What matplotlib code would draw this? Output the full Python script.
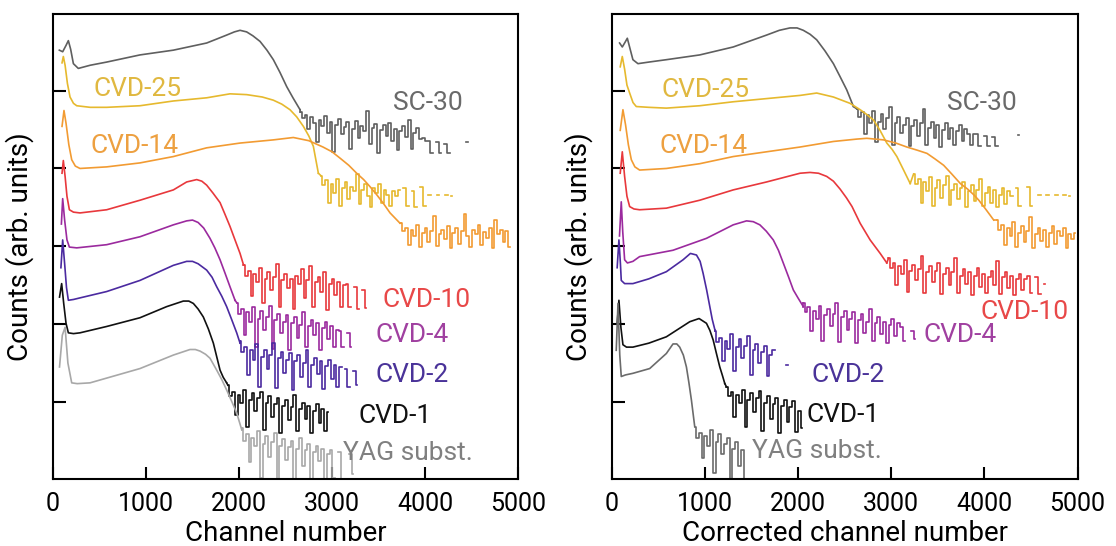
import numpy as np
import matplotlib
matplotlib.use("Agg")
import matplotlib.pyplot as plt

nan = np.nan
BIN = 30  # channel width of one bin in the noisy tails

# ---------------- left panel: channel number ----------------
# smooth part as (channel, offset counts) points, then the noisy tail bins
L_sc30_ch = [68, 104, 140, 165, 190, 219, 272, 400, 577, 935, 1294, 1652, 1760, 1867, 1950, 2011,
             2082, 2150, 2226, 2300, 2369, 2440, 2513, 2580, 2656]
L_sc30_y = [5.54, 5.52, 5.60, 5.66, 5.55, 5.37, 5.31, 5.35, 5.39, 5.48, 5.54, 5.63, 5.68, 5.73, 5.77, 5.79,
            5.77, 5.72, 5.65, 5.54, 5.42, 5.26, 5.08, 4.94, 4.79]
L_sc30_t0 = 2660
L_sc30_tail = [4.76, 4.68, 4.72, 4.55, 4.70, 4.62, 4.38, 4.66, 4.58, 4.71,
               4.50, 4.64, 4.26, 4.60, 4.67, 4.48, 4.57, 4.63, 4.30, 4.55,
               4.65, 4.44, 4.58, 4.52, 4.78, 4.36, 4.56, 4.61, 4.25, 4.54,
               4.60, 4.46, 4.62, 4.40, 4.55, 4.28, 4.52, 4.58, 4.45, 4.66,
               4.30, 4.50, 4.56, 4.42,
               4.44, 4.40, 4.40, 4.24, nan, 4.38, 4.24, nan, 4.36, 4.24, nan,
               nan, nan, nan, nan, nan, 4.38]

L_cvd25_ch = [97, 111, 130, 155, 183, 220, 255, 400, 577, 935, 1294, 1652, 1903, 2082, 2250, 2369,
              2460, 2548, 2620, 2692, 2750, 2799, 2853]
L_cvd25_y = [5.38, 5.46, 5.35, 5.12, 4.95, 4.87, 4.84, 4.82, 4.82, 4.84, 4.90, 4.94, 4.99, 4.98, 4.95, 4.91,
             4.86, 4.79, 4.70, 4.58, 4.46, 4.33, 3.99]
L_cvd25_t0 = 2880
L_cvd25_tail = [3.96, 3.84, 3.90, 3.62, 3.86, 3.74, 3.92, 3.58, 3.80, 3.88,
                3.66, 3.82, 3.76, 3.98, 3.60, 3.78, 3.85, 3.70, 3.57, 3.80,
                3.74, 3.86, 3.62, 3.78, 3.72, 3.58, 3.76, 3.70,
                3.78, nan, 3.80, 3.58, nan, 3.76, 3.57, nan, 3.82, 3.58,
                nan, 3.72, nan, nan, 3.71, nan, nan, 3.71, nan, 3.70]

L_cvd14_ch = [97, 118, 140, 170, 201, 240, 290, 577, 935, 1294, 1652, 2011, 2369, 2584, 2750, 2903,
              3000, 3086, 3180, 3265, 3340, 3409, 3480, 3552, 3624, 3731]
L_cvd14_y = [4.58, 4.78, 4.62, 4.35, 4.16, 4.08, 4.05, 4.07, 4.12, 4.20, 4.31, 4.37, 4.41, 4.44, 4.40, 4.32,
             4.26, 4.18, 4.09, 3.99, 3.91, 3.82, 3.72, 3.61, 3.49, 3.36]
L_cvd14_t0 = 3740
L_cvd14_tail = [3.36, 3.26, 3.30, 3.08, 3.28, 3.20, 3.34, 3.06, 3.24, 3.30,
                3.12, 3.26, 3.45, 3.07, 3.22, 3.28, 3.16, 3.32, 3.05, 3.24,
                3.30, 3.10, 3.26, 3.48, 3.20, 3.06, 3.28, 3.22, 3.34, 3.08,
                3.25, 3.18, 3.30, 3.05, 3.40, 3.22, 3.28, 3.12, 3.26, 3.06]

L_cvd10_ch = [97, 111, 130, 150, 176, 220, 290, 577, 935, 1294, 1437, 1545, 1600, 1652, 1720, 1796,
              1850, 1903, 1960, 2011, 2047]
L_cvd10_y = [3.99, 4.15, 3.95, 3.70, 3.53, 3.50, 3.49, 3.53, 3.65, 3.78, 3.88, 3.91, 3.89, 3.84, 3.74, 3.62,
             3.47, 3.32, 3.14, 2.98, 2.84]
L_cvd10_t0 = 2050
L_cvd10_tail = [2.84, 2.70, 2.76, 2.45, 2.72, 2.62, 2.80, 2.35, 2.66, 2.74,
                2.52, 2.68, 2.85, 2.30, 2.64, 2.72, 2.55, 2.66, 2.28, 2.70,
                2.60, 2.78, 2.42, 2.64, 2.82, 2.30, 2.62, 2.68, 2.50, 2.74,
                2.27, 2.60, 2.66, 2.46, 2.62, 2.30, 2.58,
                2.60, 2.30, nan, 2.56, 2.28, nan, 2.52, 2.29]

L_cvd4_ch = [90, 104, 125, 150, 176, 255, 577, 935, 1294, 1437, 1500, 1560, 1620, 1688, 1740, 1796,
             1850, 1903, 1957]
L_cvd4_y = [3.35, 3.67, 3.40, 3.15, 3.06, 3.05, 3.09, 3.19, 3.34, 3.39, 3.40, 3.37, 3.30, 3.17, 3.05, 2.90,
            2.73, 2.56, 2.39]
L_cvd4_t0 = 1975
L_cvd4_tail = [2.36, 2.22, 2.28, 1.95, 2.24, 2.12, 2.30, 1.80, 2.16, 2.25,
               2.02, 2.18, 2.32, 1.78, 2.14, 2.22, 1.98, 2.12, 2.20, 1.76,
               2.10, 2.18, 1.92, 2.08, 2.24, 1.80, 2.06, 2.14, 1.95, 2.10,
               1.77, 2.04, 2.12, 1.90, 2.06, 1.80, 2.02,
               2.00, 1.80, nan, 1.98, 1.80]

L_cvd2_ch = [85, 104, 125, 145, 165, 220, 290, 577, 935, 1294, 1437, 1500, 1560, 1652, 1710, 1760,
             1815, 1867, 1920, 1975, 2011]
L_cvd2_y = [2.80, 3.15, 2.85, 2.55, 2.39, 2.40, 2.42, 2.50, 2.64, 2.83, 2.88, 2.88, 2.85, 2.77, 2.68, 2.56,
            2.44, 2.31, 2.15, 1.98, 1.85]
L_cvd2_t0 = 2011
L_cvd2_tail = [1.88, 1.74, 1.80, 1.45, 1.76, 1.64, 1.84, 1.30, 1.68, 1.76,
               1.52, 1.70, 1.85, 1.28, 1.66, 1.74, 1.48, 1.64, 1.72, 1.26,
               1.62, 1.70, 1.42, 1.60, 1.76, 1.30, 1.58, 1.66, 1.46, 1.62,
               1.27, 1.56, 1.64, 1.40, 1.58, 1.30,
               1.55, nan, 1.52, 1.30, nan, 1.50, 1.32]

L_cvd1_ch = [70, 93, 115, 140, 165, 220, 290, 577, 935, 1222, 1401, 1460, 1509, 1560, 1616, 1670,
             1724, 1760, 1796, 1830, 1867]
L_cvd1_y = [2.43, 2.60, 2.35, 2.10, 1.98, 1.97, 1.98, 2.06, 2.17, 2.31, 2.38, 2.38, 2.35, 2.28, 2.18, 2.03,
            1.85, 1.68, 1.51, 1.42, 1.35]
L_cvd1_t0 = 1880
L_cvd1_tail = [1.32, 1.18, 1.24, 0.95, 1.20, 1.10, 1.26, 0.80, 1.14, 1.22,
               1.00, 1.16, 1.24, 0.75, 1.10, 1.18, 0.92, 1.08, 1.16, 0.72,
               1.06, 1.14, 0.88, 1.04, 1.20, 0.74, 1.02, 1.10, 0.90, 1.06,
               0.72, 1.00, 1.08, 0.85, 1.02, 0.74, 0.98]

L_yag_ch = [70, 100, 130, 160, 201, 260, 398, 577, 935, 1294, 1473, 1530, 1581, 1640, 1688, 1760,
            1815, 1867, 1920, 1975, 2029]
L_yag_y = [1.55, 1.95, 2.05, 1.60, 1.35, 1.34, 1.35, 1.41, 1.53, 1.70, 1.77, 1.77, 1.75, 1.71, 1.66, 1.51,
           1.39, 1.26, 1.12, 0.97, 0.76]
L_yag_t0 = 2029
L_yag_tail = [0.78, 0.62, 0.70, 0.35, 0.66, 0.55, 0.74, 0.15, 0.58, 0.68,
              0.42, 0.60, 0.72, 0.05, 0.56, 0.64, 0.38, 0.54, 0.62, 0.12,
              0.52, 0.66, 0.30, 0.50, 0.58, 0.00, 0.48, 0.56, 0.36, 0.52,
              0.10, 0.46,
              0.50, 0.15, nan, 0.48, 0.05, nan, nan, 0.45, 0.20]

# ---------------- right panel: corrected channel number ----------------
R_sc30_ch = [86, 115, 145, 169, 200, 229, 283, 400, 588, 946, 1305, 1663, 1800, 1914, 1990, 2057,
             2130, 2201, 2290, 2380, 2450, 2523, 2595]
R_sc30_y = [5.63, 5.58, 5.64, 5.69, 5.55, 5.42, 5.37, 5.39, 5.42, 5.48, 5.58, 5.73, 5.79, 5.82, 5.82, 5.79,
            5.74, 5.67, 5.53, 5.37, 5.21, 5.04, 4.83]
R_sc30_t0 = 2631
R_sc30_tail = [4.80, 4.70, 4.76, 4.48, 4.72, 4.62, 4.78, 4.38, 4.64, 4.74,
               4.55, 4.68, 4.82, 4.34, 4.62, 4.70, 4.50, 4.60, 4.68, 4.33,
               4.58, 4.66, 4.46, 4.62, 4.80, 4.35, 4.56, 4.64, 4.44, 4.60,
               4.32, 4.54, 4.62, 4.42, 4.56, 4.34, 4.52, 4.60, 4.40, 4.55,
               4.48, 4.34, 4.48, 4.48, 4.33, nan, 4.46, 4.33, nan, 4.45, 4.33, nan, nan,
               nan, nan, nan, nan, nan, 4.47]

R_cvd25_ch = [93, 115, 140, 165, 194, 230, 265, 400, 588, 946, 1305, 1663, 2022, 2201, 2380, 2559,
              2667, 2738, 2810, 2880, 2953, 3010, 3061, 3133, 3204]
R_cvd25_y = [5.33, 5.46, 5.30, 5.10, 5.00, 4.88, 4.83, 4.82, 4.81, 4.84, 4.89, 4.93, 4.97, 5.00, 4.95, 4.87,
             4.79, 4.73, 4.66, 4.53, 4.37, 4.29, 4.20, 4.03, 3.86]
R_cvd25_t0 = 3240
R_cvd25_tail = [3.98, 3.86, 3.92, 3.62, 3.88, 3.76, 3.94, 3.58, 3.80, 3.90,
                3.68, 3.84, 3.96, 3.59, 3.78, 3.86, 3.66, 3.80, 3.88, 3.57,
                3.76, 3.84, 3.64, 3.78, 3.92, 3.58, 3.74, 3.82, 3.62, 3.78,
                3.57, 3.72, 3.80, 3.60, 3.76, 3.70,
                nan, 3.80, 3.58, nan, nan, 3.82, 3.58,
                nan, nan, 3.72, nan, nan, 3.72, nan, nan, 3.71, nan, nan, 3.71, nan, 3.70]

R_cvd14_ch = [93, 122, 150, 180, 212, 250, 301, 588, 946, 1305, 1663, 2022, 2380, 2631, 2738, 2917,
              3050, 3168, 3280, 3384, 3470, 3563, 3650, 3742, 3820, 3885, 3940, 3993, 4050, 4100]
R_cvd14_y = [4.53, 4.79, 4.60, 4.35, 4.16, 4.07, 4.03, 4.05, 4.11, 4.20, 4.26, 4.32, 4.39, 4.42, 4.43, 4.41,
             4.37, 4.32, 4.28, 4.24, 4.17, 4.09, 3.98, 3.86, 3.79, 3.72, 3.65, 3.57, 3.48, 3.40]
R_cvd14_t0 = 4136
R_cvd14_tail = [3.40, 3.28, 3.34, 3.08, 3.30, 3.20, 3.38, 3.06, 3.24, 3.32,
                3.12, 3.26, 3.44, 3.05, 3.22, 3.30, 3.14, 3.28, 3.06, 3.24,
                3.32, 3.10, 3.26, 3.20, 3.30, 3.05, 3.22, 3.16, 3.24]

R_cvd10_ch = [93, 115, 140, 165, 194, 240, 301, 588, 946, 1305, 1663, 2022, 2129, 2220, 2308, 2380,
              2452, 2520, 2580, 2667, 2774, 2882, 2953]
R_cvd10_y = [3.99, 4.26, 3.95, 3.70, 3.57, 3.54, 3.53, 3.55, 3.65, 3.78, 3.88, 3.99, 4.00, 3.99, 3.95, 3.89,
             3.79, 3.68, 3.57, 3.36, 3.15, 2.98, 2.86]
R_cvd10_t0 = 2971
R_cvd10_tail = [2.92, 2.80, 2.86, 2.58, 2.82, 2.72, 2.90, 2.50, 2.76, 2.84,
                2.64, 2.78, 2.95, 2.48, 2.74, 2.82, 2.62, 2.76, 2.86, 2.47,
                2.72, 2.80, 2.58, 2.74, 2.92, 2.48, 2.70, 2.78, 2.60, 2.74,
                2.46, 2.70, 2.80, 2.56, 2.72, 2.48, 2.68, 2.76, 2.58, 2.88,
                2.47, 2.68, 2.74, 2.55, 2.70, 2.46, 2.66, 2.72, 2.52, 2.66,
                2.70, 2.48, nan, 2.68, 2.47, nan, 2.60]

R_cvd4_ch = [85, 104, 120, 140, 170, 229, 301, 659, 1018, 1305, 1448, 1520, 1591, 1660, 1735, 1790,
             1842, 1900, 1950, 2000, 2057]
R_cvd4_y = [3.20, 3.63, 3.25, 2.90, 2.86, 2.88, 2.94, 3.02, 3.17, 3.34, 3.39, 3.38, 3.34, 3.26, 3.15, 3.02,
            2.86, 2.68, 2.52, 2.42, 2.31]
R_cvd4_t0 = 2057
R_cvd4_tail = [2.36, 2.24, 2.30, 2.00, 2.26, 2.16, 2.32, 1.88, 2.20, 2.28,
               2.06, 2.22, 2.35, 1.86, 2.18, 2.26, 2.02, 2.16, 2.24, 1.85,
               2.14, 2.22, 1.98, 2.12, 2.28, 1.88, 2.10, 2.18, 1.96, 2.12,
               1.85, 2.08, 2.16, 1.94, 2.10,
               2.05, 1.88, nan, nan, 2.00, 1.90]

R_cvd2_ch = [60, 79, 95, 104, 140, 229, 400, 588, 767, 846, 911, 950, 982, 1020, 1054, 1080, 1108]
R_cvd2_y = [2.80, 3.15, 2.85, 2.64, 2.60, 2.60, 2.66, 2.75, 2.90, 2.98, 2.96, 2.88, 2.73, 2.52, 2.31, 2.15,
            2.02]
R_cvd2_t0 = 1108
R_cvd2_tail = [2.00, 1.86, 1.92, 1.62, 1.88, 1.78, 1.96, 1.50, 1.80, 1.90,
               1.66, 1.82, 1.94, 1.45, 1.76, 1.84, 1.60, 1.74, 1.82, 1.43,
               1.70, 1.76,
               nan, nan, nan, nan, 1.57]

R_cvd1_ch = [60, 79, 100, 122, 160, 229, 400, 588, 839, 939, 1018, 1055, 1090, 1125, 1161, 1190, 1215]
R_cvd1_y = [2.10, 2.39, 2.05, 1.83, 1.80, 1.80, 1.85, 1.93, 2.12, 2.16, 2.10, 2.01, 1.89, 1.72, 1.55, 1.44,
            1.34]
R_cvd1_t0 = 1233
R_cvd1_tail = [1.30, 1.18, 1.24, 0.92, 1.20, 1.10, 1.26, 0.80, 1.14, 1.22,
               0.98, 1.16, 1.25, 0.74, 1.10, 1.18, 0.90, 1.08, 1.16, 0.72,
               1.06, 1.14, 0.86, 1.04, 1.12, 0.73, 1.00, 0.78]

R_yag_ch = [50, 69, 88, 104, 150, 229, 409, 588, 659, 700, 731, 770, 803, 830, 857, 892]
R_yag_y = [1.76, 2.35, 1.70, 1.43, 1.45, 1.47, 1.53, 1.72, 1.84, 1.84, 1.80, 1.70, 1.55, 1.35, 1.13, 0.80]
R_yag_t0 = 892
R_yag_tail = [0.80, 0.66, 0.72, 0.40, 0.68, 0.56, 0.76, 0.22, 0.60, 0.70,
              0.45, 0.58, 0.66, 0.10, 0.52, 0.60, 0.30, 0.50, 0.00]

labels = ["SC-30", "CVD-25", "CVD-14", "CVD-10", "CVD-4", "CVD-2", "CVD-1", "YAG subst."]
line_colors = ["#5f5f5f", "#e6b92e", "#f29b32", "#e8383c", "#9b2a9e", "#4b2aa0", "#111111", "#a8a8a8"]
text_colors = ["#6a6a6a", "#e0b840", "#eda040", "#e84848", "#a040a0", "#4a3399", "#111111", "#808080"]
yag_right_color = "#6b6b6b"

# label baseline anchors (channel, offset) for each panel
L_lab_x = [3659, 434, 398, 3545, 3470, 3470, 3283, 3122]
L_lab_y = [4.79, 4.96, 4.25, 2.31, 1.87, 1.36, 0.85, 0.38]
R_lab_x = [3599, 534, 516, 3957, 3348, 2147, 2093, 1502]
R_lab_y = [4.79, 4.95, 4.25, 2.15, 1.87, 1.36, 0.86, 0.40]

# offset axis: range and the five tick marks on it
y_range = (0.139, 5.995)
y_tick_pos = [1.11, 2.09, 3.07, 4.05, 5.03]

left_curves = [(L_sc30_ch, L_sc30_y, L_sc30_t0, L_sc30_tail),
               (L_cvd25_ch, L_cvd25_y, L_cvd25_t0, L_cvd25_tail),
               (L_cvd14_ch, L_cvd14_y, L_cvd14_t0, L_cvd14_tail),
               (L_cvd10_ch, L_cvd10_y, L_cvd10_t0, L_cvd10_tail),
               (L_cvd4_ch, L_cvd4_y, L_cvd4_t0, L_cvd4_tail),
               (L_cvd2_ch, L_cvd2_y, L_cvd2_t0, L_cvd2_tail),
               (L_cvd1_ch, L_cvd1_y, L_cvd1_t0, L_cvd1_tail),
               (L_yag_ch, L_yag_y, L_yag_t0, L_yag_tail)]
right_curves = [(R_sc30_ch, R_sc30_y, R_sc30_t0, R_sc30_tail),
                (R_cvd25_ch, R_cvd25_y, R_cvd25_t0, R_cvd25_tail),
                (R_cvd14_ch, R_cvd14_y, R_cvd14_t0, R_cvd14_tail),
                (R_cvd10_ch, R_cvd10_y, R_cvd10_t0, R_cvd10_tail),
                (R_cvd4_ch, R_cvd4_y, R_cvd4_t0, R_cvd4_tail),
                (R_cvd2_ch, R_cvd2_y, R_cvd2_t0, R_cvd2_tail),
                (R_cvd1_ch, R_cvd1_y, R_cvd1_t0, R_cvd1_tail),
                (R_yag_ch, R_yag_y, R_yag_t0, R_yag_tail)]

plt.rcParams['font.family'] = ['Roboto', 'DejaVu Sans']
plt.rcParams['font.size'] = 20


def draw_panel(ax, curves, lab_x, lab_y, colors, xlabel):
    for i, (ch, y, t0, tail) in enumerate(curves):
        c = colors[i]
        ax.plot(ch, y, color=c, lw=1.2, solid_joinstyle='round')
        tx = t0 + BIN * np.arange(len(tail))
        # join the smooth part to the first tail bin
        ax.plot([ch[-1], tx[0]], [y[-1], tail[0]], color=c, lw=1.2)
        ax.plot(tx, tail, color=c, lw=1.2, drawstyle='steps-mid')
        ax.text(lab_x[i], lab_y[i], labels[i], color=text_colors[i], fontsize=19,
                ha='left', va='baseline')
    ax.set_xlim(0, 5000)
    ax.set_ylim(*y_range)
    ax.set_xticks([0, 1000, 2000, 3000, 4000, 5000])
    ax.set_yticks(y_tick_pos)
    ax.set_yticklabels([])
    ax.tick_params(direction='in', length=9, width=1.5, labelsize=18)
    ax.tick_params(axis='x', pad=9.5)
    for s in ax.spines.values():
        s.set_linewidth(1.5)
    ax.set_xlabel(xlabel, fontsize=20, labelpad=3)
    ax.set_ylabel("Counts (arb. units)", fontsize=20, labelpad=10)


fig = plt.figure(figsize=(11.16, 5.46), dpi=100)
ax1 = fig.add_axes([0.0475, 0.1227, 0.4167, 0.8516])
ax2 = fig.add_axes([0.548, 0.1227, 0.4176, 0.8516])

draw_panel(ax1, left_curves, L_lab_x, L_lab_y, line_colors, "Channel number")
draw_panel(ax2, right_curves, R_lab_x, R_lab_y, line_colors[:-1] + [yag_right_color],
           "Corrected channel number")

fig.savefig("out.png", dpi=100)
